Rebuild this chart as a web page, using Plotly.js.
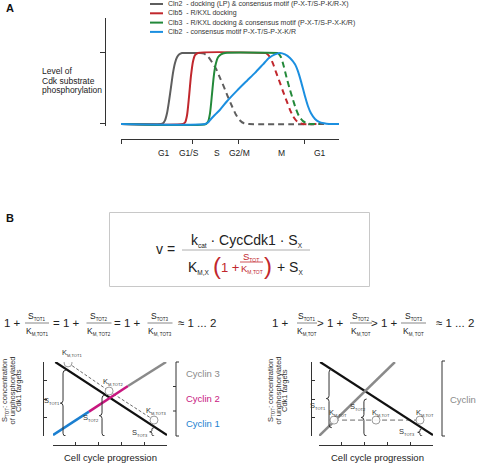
<!DOCTYPE html>
<html><head><meta charset="utf-8">
<script src="https://cdn.plot.ly/plotly-3.0.1.min.js"></script>
<style>html,body{margin:0;padding:0;background:#fff}#chart{width:478px;height:464px}</style>
</head><body><div id="chart"></div>
<script>
// ---------- Panel A data ----------
const phaseTickPos = [0, 71, 117, 183];
const phaseLabels = ['G1', 'G1/S', 'S', 'G2/M', 'M', 'G1'];
const phaseLabelPos = [43, 68, 96, 118, 160, 199];
const levelTicks = [0, 1];
const legendLabels = [
  'Cln2  - docking (LP) & consensus motif (P-X-T/S-P-K/R-X)',
  'Clb5  - R/KXL docking',
  'Clb3  - R/KXL docking & consensus motif (P-X-T/S-P-X-K/R)',
  'Clb2  - consensus motif P-X-T/S-P-X-K/R'
];
const cln2SolidX = [0, 40, 42, 44, 46, 48, 50, 52, 54, 56, 58, 61, 65, 79];
const cln2SolidY = [0, 0, 0.01, 0.05, 0.15, 0.32, 0.52, 0.72, 0.86, 0.94, 0.98, 1, 1, 1];
const cln2DashX = [79, 83, 87, 91, 95, 99, 103, 107, 111, 115, 119, 123, 128, 218];
const cln2DashY = [1, 0.99, 0.95, 0.87, 0.78, 0.65, 0.52, 0.38, 0.25, 0.13, 0.05, 0.01, 0, 0];
const clb5SolidX = [0, 62, 64, 66, 68, 70, 72, 74, 77, 145];
const clb5SolidY = [0, 0, 0.02, 0.12, 0.38, 0.68, 0.88, 0.97, 1, 1];
const clb5DashX = [145, 148, 152, 155, 159, 162, 166, 169, 172, 175, 178, 182, 199];
const clb5DashY = [1, 0.96, 0.85, 0.73, 0.58, 0.46, 0.31, 0.2, 0.11, 0.05, 0.015, 0, 0];
const clb3SolidX = [0, 85, 87, 89, 91, 93, 95, 97, 100, 104, 157];
const clb3SolidY = [0, 0, 0.03, 0.15, 0.42, 0.7, 0.86, 0.94, 0.98, 1, 1];
const clb3DashX = [157, 160, 163, 166, 169, 172, 175, 178, 182, 186, 190, 199];
const clb3DashY = [1, 0.94, 0.8, 0.63, 0.48, 0.34, 0.21, 0.11, 0.04, 0.01, 0, 0];
const clb2X = [0, 84, 87, 90, 94, 99, 106, 116, 126, 134, 142, 148, 154, 159, 164, 169, 174, 177, 180, 184, 187, 190, 194, 198, 203, 208, 218];
const clb2Y = [0, 0, 0.02, 0.07, 0.13, 0.2, 0.32, 0.47, 0.61, 0.72, 0.84, 0.93, 0.98, 1, 0.98, 0.93, 0.84, 0.74, 0.6, 0.39, 0.25, 0.15, 0.07, 0.03, 0.01, 0, 0];

// ---------- Panel B data ----------
const timeTicks = [0, 1, 2, 3, 4, 5];
const concTicks = [0, 1, 2, 3, 4];
const cyclinLabels = ['Cyclin 3', 'Cyclin 2', 'Cyclin 1'];
// left (three cyclins)
const subLX = [0.1, 5];      const subLY = [4, 0.05];
const cyc1X = [0, 1.58];     const cyc1Y = [0.05, 1.32];
const cyc2X = [1.58, 3.29];  const cyc2Y = [1.32, 2.7];
const cyc3X = [3.29, 4.96];  const cyc3Y = [2.7, 4.0];
const kmLX = [0.66, 2.46, 4.43]; const kmLY = [3.95, 2.43, 0.86];
// right (single cyclin)
const subRX = [0.05, 5];     const subRY = [4.0, 0.05];
const cycRX = [0, 3.33];     const cycRY = [0, 4.0];
const kmRX = [0.66, 2.5, 4.43];  const kmRY = [0.86, 0.86, 0.86];

// ---------- helpers ----------
const W = 478, H = 464;
const FONT = 'Liberation Sans, Arial, sans-serif';
const px = v => v / W, py = v => 1 - v / H;
const RED = '#c1272d', GRAY = '#5e5e5e', GREEN = '#23893a', BLUE = '#1b8fe0';
const MAG = '#c8177f', LGRAY = '#8a8a8a';
const sb = (t, s) => `<sub><span style="font-size:${s}px">${t}</span></sub>`;
function T(text, x, y, size, color, anchor, extra) {
  return Object.assign({text: text, x: px(x), y: py(y), xref: 'paper', yref: 'paper',
    xanchor: anchor || 'center', yanchor: 'middle', showarrow: false, borderpad: 0,
    font: {size: size, color: color || '#222', family: FONT}}, extra || {});
}
function L(x0, y0, x1, y1, color, width, dash) {
  return {type: 'line', xref: 'paper', yref: 'paper', x0: px(x0), y0: py(y0), x1: px(x1), y1: py(y1),
    line: {color: color, width: width || 1, dash: dash || 'solid'}};
}
function brace(xr, yr, x, y0, y1, w, h, color) {
  const ym = (y0 + y1) / 2;
  const p = `M${x + w},${y1} Q${x},${y1} ${x},${y1 - h} L${x},${ym + h} Q${x},${ym} ${x - w},${ym} ` +
            `Q${x},${ym} ${x},${ym - h} L${x},${y0 + h} Q${x},${y0} ${x + w},${y0}`;
  return {type: 'path', xref: xr, yref: yr, path: p, line: {color: color || '#333', width: 1}};
}
function line(x, y, xa, ya, color, width, dash, shape) {
  return {type: 'scatter', mode: 'lines', x: x, y: y, xaxis: xa, yaxis: ya, hoverinfo: 'skip',
    line: {color: color, width: width, dash: dash || 'solid', shape: shape || 'linear', smoothing: 0.7}};
}

const dash = '6px,4px';
const traces = [
  line(cln2SolidX, cln2SolidY, 'x', 'y', GRAY, 2, 'solid', 'spline'),
  line(cln2DashX, cln2DashY, 'x', 'y', GRAY, 2, dash, 'spline'),
  line(clb5SolidX, clb5SolidY, 'x', 'y', RED, 2, 'solid', 'spline'),
  line(clb5DashX, clb5DashY, 'x', 'y', RED, 2, dash, 'spline'),
  line(clb3SolidX, clb3SolidY, 'x', 'y', GREEN, 2, 'solid', 'spline'),
  line(clb3DashX, clb3DashY, 'x', 'y', GREEN, 2, dash, 'spline'),
  line(clb2X, clb2Y, 'x', 'y', BLUE, 2, 'solid', 'spline'),
  // B left
  line(kmLX, kmLY, 'x2', 'y2', '#444', 0.8, '3px,2px'),
  line(subLX, subLY, 'x2', 'y2', '#111', 2.2),
  line(cyc1X, cyc1Y, 'x2', 'y2', '#1b7fd0', 2.5),
  line(cyc2X, cyc2Y, 'x2', 'y2', MAG, 2.5),
  line(cyc3X, cyc3Y, 'x2', 'y2', LGRAY, 2.5),
  {type: 'scatter', mode: 'markers', x: kmLX, y: kmLY, xaxis: 'x2', yaxis: 'y2', hoverinfo: 'skip',
   marker: {size: 8, color: 'rgba(255,255,255,0.9)', line: {color: '#9a9a9a', width: 1}}},
  // B right
  line(kmRX, kmRY, 'x3', 'y3', '#444', 0.8, '5px,3px'),
  line(subRX, subRY, 'x3', 'y3', '#111', 2.2),
  line(cycRX, cycRY, 'x3', 'y3', LGRAY, 2.5),
  {type: 'scatter', mode: 'markers', x: kmRX, y: kmRY, xaxis: 'x3', yaxis: 'y3', hoverinfo: 'skip',
   marker: {size: 8, color: 'rgba(255,255,255,0.9)', line: {color: '#9a9a9a', width: 1}}}
];

const axLine = {showline: true, linecolor: '#333', linewidth: 1, showgrid: false, zeroline: false,
  tickcolor: '#333', tickwidth: 1, showticklabels: false, fixedrange: true};

const layout = {
  width: W, height: H, margin: {l: 0, r: 0, t: 0, b: 0}, showlegend: false,
  paper_bgcolor: '#fff', plot_bgcolor: 'rgba(0,0,0,0)', font: {family: FONT},
  xaxis: Object.assign({}, axLine, {domain: [px(121), px(339)], range: [0, 218], anchor: 'free',
    position: py(139), ticks: 'outside', ticklen: 4, tickvals: phaseTickPos}),
  yaxis: Object.assign({}, axLine, {domain: [py(126.1), py(17.5)], range: [-0.03, 1.5], anchor: 'free',
    position: px(105), ticks: 'outside', ticklen: 5, tickvals: levelTicks}),
  xaxis2: Object.assign({}, axLine, {domain: [px(53), px(167)], range: [0, 5], anchor: 'free',
    position: py(445), ticks: 'inside', ticklen: 3, tickvals: timeTicks}),
  yaxis2: Object.assign({}, axLine, {domain: [py(436), py(362)], range: [0, 4], anchor: 'free',
    position: px(43), ticks: 'inside', ticklen: 3, tickvals: concTicks}),
  xaxis3: Object.assign({}, axLine, {domain: [px(319), px(433)], range: [0, 5], anchor: 'free',
    position: py(445), ticks: 'inside', ticklen: 3, tickvals: timeTicks}),
  yaxis3: Object.assign({}, axLine, {domain: [py(436), py(362)], range: [0, 4], anchor: 'free',
    position: px(311), ticks: 'inside', ticklen: 3, tickvals: concTicks}),
  shapes: [], annotations: []
};
const S = layout.shapes, A = layout.annotations;

// ----- Panel A text -----
A.push(T('<b>A</b>', 5, 8, 11, '#111', 'left'));
const legColors = [GRAY, RED, GREEN, BLUE];
const legRows = [4, 13.3, 22.6, 31.9];
legendLabels.forEach((t, i) => {
  S.push(L(150, legRows[i], 163, legRows[i], legColors[i], 2));
  A.push(T(t, 167, legRows[i], 7, '#333', 'left'));
});
['Level of', 'Cdk substrate', 'phosphorylation'].forEach((t, i) =>
  A.push(T(t, 41, 71 + i * 9.6, 8.5, '#222', 'left')));
phaseLabels.forEach((t, i) => A.push({text: t, x: phaseLabelPos[i], xref: 'x', y: py(153), yref: 'paper',
  showarrow: false, xanchor: 'center', yanchor: 'middle', font: {size: 8.5, color: '#222', family: FONT}}));

// ----- Panel B formula box -----
A.push(T('<b>B</b>', 5, 218, 11, '#111', 'left'));
S.push({type: 'rect', xref: 'paper', yref: 'paper', x0: px(109.5), x1: px(369.5), y0: py(286.5), y1: py(212.5),
  line: {color: '#c8c8c8', width: 1}, fillcolor: 'rgba(0,0,0,0)'});
A.push(T('v =', 165.5, 249, 14, '#222'));
A.push(T('k' + sb('cat', 6.5) + ' · CycCdk1 · S' + sb('X', 6.5), 247, 240, 14, '#222'));
S.push(L(182, 250, 310, 250, '#999', 0.8));
A.push(T('K' + sb('M,X', 6.5), 199, 267, 14, '#222'));
A.push(T('(', 216.5, 265.5, 24, RED));
A.push(T('1 +', 229.5, 267, 13, RED));
A.push(T('S' + sb('TOT', 5), 251, 257, 9.5, RED));
S.push(L(240, 262, 263, 262, RED, 0.8));
A.push(T('K' + sb('M,TOT', 5), 252, 268.5, 9.5, RED));
A.push(T(')', 267.5, 265.5, 24, RED));
A.push(T('+ S' + sb('X', 6.5), 290, 267, 14, '#222'));

// ----- equations above B plots -----
function frac(cx, half, num, den) {
  A.push(T(num, cx, 316, 8.5, '#222'));
  S.push(L(cx - half, 323, cx + half, 323, '#555', 0.7));
  A.push(T(den, cx, 331, 8.5, '#222'));
}
const sS = t => 'S' + sb(t, 4.5), kS = t => 'K' + sb(t, 4.5);
A.push(T('1 +', 12, 323, 11.5, '#222'));
frac(37, 12, sS('TOT1'), kS('M,TOT1'));
A.push(T('= 1 +', 66, 323, 11.5, '#222'));
frac(99, 12.5, sS('TOT2'), kS('M, TOT2'));
A.push(T('= 1 +', 127, 323, 11.5, '#222'));
frac(160, 12.5, sS('TOT3'), kS('M, TOT3'));
A.push(T('≈ 1 ... 2', 197, 323, 11.5, '#222'));

A.push(T('1 +', 280, 323, 11.5, '#222'));
frac(307, 10, sS('TOT1'), kS('M,TOT'));
A.push(T('> 1 +', 330, 323, 11.5, '#222'));
frac(361, 11, sS('TOT2'), kS('M,TOT'));
A.push(T('> 1 +', 384, 323, 11.5, '#222'));
frac(413.5, 12.5, sS('TOT3'), kS('M, TOT'));
A.push(T('≈ 1 ... 2', 455, 323, 11.5, '#222'));

// ----- B plot decorations -----
const ylab = ['S' + sb('TOT', 4.5) + ': concentration', 'of unphosphorylated', 'Cdk1 targets'];
function yLabel(xs, yc) {
  ylab.forEach((t, i) => A.push(T(t, xs[i], yc, 7.5, '#333', 'center', {textangle: -90})));
}
yLabel([5, 11.5, 18], 391);
yLabel([271, 277.5, 284], 391);
A.push(T('Cell cycle progression', 110, 457, 9.5, '#222'));
A.push(T('Cell cycle progression', 377, 457, 9.5, '#222'));

const kL = t => 'K' + sb(t, 4), sL = t => 'S' + sb(t, 4);
A.push(T(kL('M,TOT1'), 72, 353, 7.5, '#333'));
A.push(T(kL('M,TOT2'), 113, 381.5, 7.5, '#333'));
A.push(T(kL('M,TOT3'), 156, 410.5, 7.5, '#333'));
A.push(T(sL('TOT1'), 61, 401, 7.5, '#333', 'right'));
A.push(T(sL('TOT2'), 100, 418, 7.5, '#333', 'right'));
A.push(T(sL('TOT3'), 149, 433, 7.5, '#333', 'right'));
S.push(brace('x2', 'y2', 0.44, 0, 3.55, 0.12, 0.15));
S.push(brace('x2', 'y2', 2.15, 0, 2.2, 0.12, 0.15));
S.push(brace('x2', 'y2', 4.34, 0, 0.45, 0.1, 0.08));
// cyclin bracket left
S.push(L(176, 362, 176, 436, '#333', 1));
S.push(L(176, 362, 179, 362, '#333', 1));
S.push(L(176, 436, 179, 436, '#333', 1));
S.push(L(173, 386.5, 176, 386.5, '#333', 1));
S.push(L(173, 411, 176, 411, '#333', 1));
const cycCols = [LGRAY, MAG, '#1b7fd0'];
cyclinLabels.forEach((t, i) => A.push(T(t, 185, 373 + i * 25, 9.5, cycCols[i], 'left')));

A.push(T(sL('TOT1'), 327, 406, 7.5, '#333', 'right'));
A.push(T(kL('M,TOT'), 338, 413, 7.5, '#333'));
A.push(T(sL('TOT2'), 358, 407, 7.5, '#333'));
A.push(T(kL('M,TOT'), 381, 413, 7.5, '#333'));
A.push(T(kL('M,TOT'), 425, 413, 7.5, '#333'));
A.push(T(sL('TOT3'), 416, 432, 7.5, '#333', 'right'));
S.push(brace('x3', 'y3', 0.44, 0.45, 3.6, 0.12, 0.15));
S.push(brace('x3', 'y3', 1.97, 0, 2.0, 0.12, 0.15));
S.push(brace('x3', 'y3', 4.43, 0, 0.4, 0.1, 0.08));
S.push(L(442, 361, 442, 436, '#333', 1));
S.push(L(442, 361, 445, 361, '#333', 1));
S.push(L(442, 436, 445, 436, '#333', 1));
A.push(T('Cyclin', 449, 399, 9.5, LGRAY, 'left'));

Plotly.newPlot('chart', traces, layout, {staticPlot: true, displayModeBar: false});
</script>
</body></html>
